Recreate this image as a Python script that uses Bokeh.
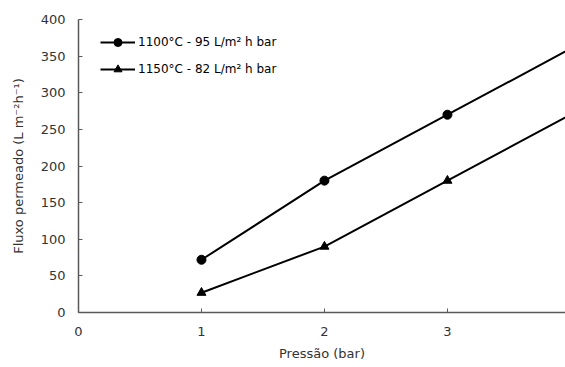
from bokeh.plotting import figure
from bokeh.models import Range1d, Legend, LegendItem, FixedTicker
from bokeh.embed import file_html
from bokeh.resources import INLINE

pressao = [1, 2, 3, 4]
fluxo_1100 = [72, 180, 270, 360]
fluxo_1150 = [27, 90, 180, 270]
label_1100 = "1100°C - 95 L/m² h bar"
label_1150 = "1150°C - 82 L/m² h bar"
x_ticks = [0, 1, 2, 3, 4]
y_ticks = [0, 50, 100, 150, 200, 250, 300, 350, 400]

FONT = "DejaVu Sans"
AX = "#595959"
TXT = "#333333"

p = figure(width=565, height=367, output_backend="svg", toolbar_location=None,
           x_range=Range1d(0, 3.96), y_range=Range1d(0, 400),
           min_border_left=78, min_border_top=19, min_border_bottom=55, min_border_right=0)
p.outline_line_color = None
p.xgrid.grid_line_color = None
p.ygrid.grid_line_color = None
p.background_fill_color = "white"

l1 = p.line(pressao, fluxo_1100, line_color="black", line_width=2)
s1 = p.scatter(pressao, fluxo_1100, marker="circle", size=9, fill_color="black", line_color="black")
l2 = p.line(pressao, fluxo_1150, line_color="black", line_width=2)
s2 = p.scatter(pressao, fluxo_1150, marker="triangle", size=9, fill_color="black", line_color="black")

for ax in (p.xaxis[0], p.yaxis[0]):
    ax.axis_line_color = AX
    ax.axis_line_width = 1.5
    ax.major_tick_line_color = AX
    ax.minor_tick_line_color = None
    ax.major_tick_in = 4
    ax.major_tick_out = 0
    ax.major_label_text_font = FONT
    ax.major_label_text_font_size = "13px"
    ax.major_label_text_color = TXT
    ax.axis_label_text_font = FONT
    ax.axis_label_text_font_size = "13px"
    ax.axis_label_text_font_style = "normal"
    ax.axis_label_text_color = TXT

p.xaxis.ticker = FixedTicker(ticks=x_ticks)
p.yaxis.ticker = FixedTicker(ticks=y_ticks)
p.xaxis.major_label_standoff = 14
p.yaxis.major_label_standoff = 13
p.xaxis.axis_label = "Pressão (bar)"
p.yaxis.axis_label = "Fluxo permeado (L m⁻²h⁻¹)"
p.xaxis.axis_label_standoff = 7
p.yaxis.axis_label_standoff = 12

leg_h = 2 * 20 + 7
legend = Legend(items=[LegendItem(label=label_1100, renderers=[l1, s1]),
                       LegendItem(label=label_1150, renderers=[l2, s2])],
                location=(22, 280 - leg_h), padding=0, margin=0, spacing=7,
                glyph_width=35, glyph_height=20, label_standoff=3,
                label_text_font=FONT, label_text_font_size="12px", label_text_color="black",
                border_line_color=None, background_fill_alpha=0)
p.add_layout(legend, "center")

open("out.html", "w").write(file_html(p, INLINE))
